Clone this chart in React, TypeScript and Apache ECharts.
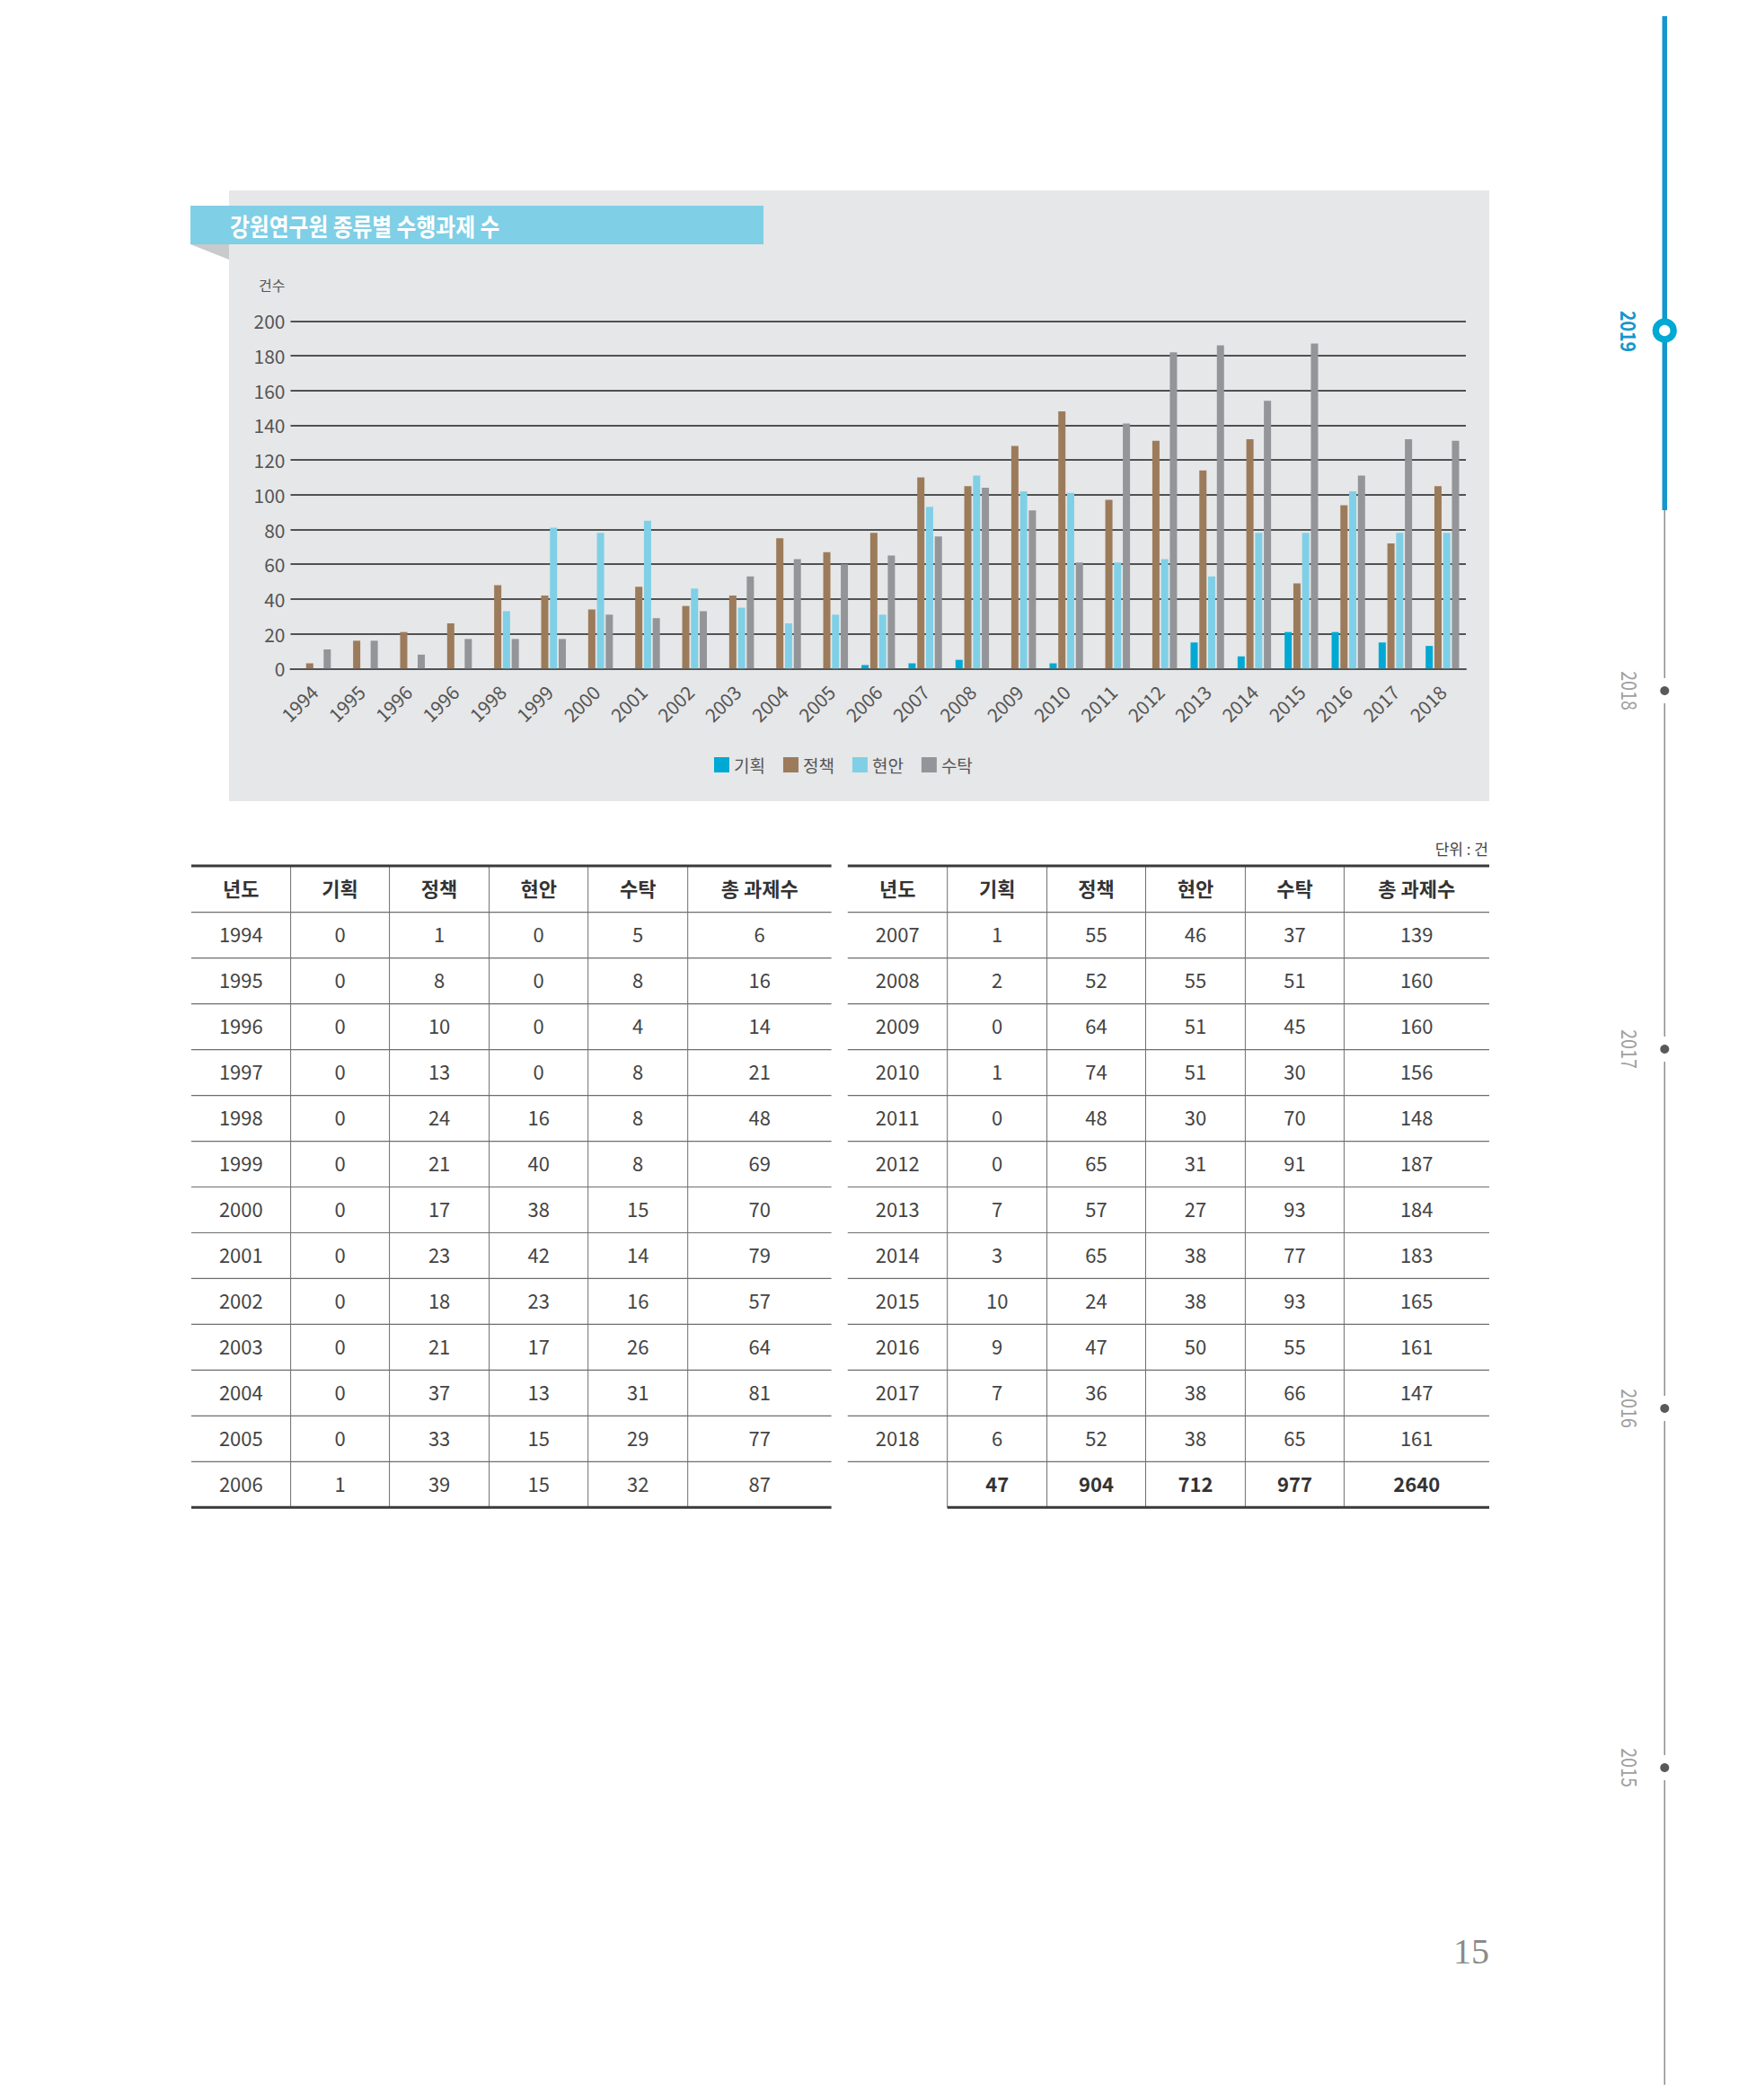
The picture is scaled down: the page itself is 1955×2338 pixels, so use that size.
import React, { useEffect, useRef } from "react";
import * as echarts from "echarts";

// ---- chart data ----
const categories = ["1994", "1995", "1996", "1996", "1998", "1999", "2000", "2001", "2002", "2003", "2004", "2005", "2006", "2007", "2008", "2009", "2010", "2011", "2012", "2013", "2014", "2015", "2016", "2017", "2018"];
const seriesNames = ["기획", "정책", "현안", "수탁"];
const planValues = [0, 0, 0, 0, 0, 0, 0, 0, 0, 0, 0, 0, 2, 3, 5, 0, 3, 0, 0, 15, 7, 21, 21, 15, 13];
const policyValues = [3, 16, 21, 26, 48, 42, 34, 47, 36, 42, 75, 67, 78, 110, 105, 128, 148, 97, 131, 114, 132, 49, 94, 72, 105];
const issueValues = [0, 0, 0, 0, 33, 81, 78, 85, 46, 35, 26, 31, 31, 93, 111, 102, 101, 61, 63, 53, 78, 78, 102, 78, 78];
const contractValues = [11, 16, 8, 17, 17, 17, 31, 29, 33, 53, 63, 60, 65, 76, 104, 91, 61, 141, 182, 186, 154, 187, 111, 132, 131];
const yTicks = { min: 0, max: 200, interval: 20 };

// ---- table data ----
const tableHeaders = ["년도", "기획", "정책", "현안", "수탁", "총 과제수"];
const leftYears = ["1994", "1995", "1996", "1997", "1998", "1999", "2000", "2001", "2002", "2003", "2004", "2005", "2006"];
const leftPlan = [0, 0, 0, 0, 0, 0, 0, 0, 0, 0, 0, 0, 1];
const leftPolicy = [1, 8, 10, 13, 24, 21, 17, 23, 18, 21, 37, 33, 39];
const leftIssue = [0, 0, 0, 0, 16, 40, 38, 42, 23, 17, 13, 15, 15];
const leftContract = [5, 8, 4, 8, 8, 8, 15, 14, 16, 26, 31, 29, 32];
const leftTotal = [6, 16, 14, 21, 48, 69, 70, 79, 57, 64, 81, 77, 87];
const rightYears = ["2007", "2008", "2009", "2010", "2011", "2012", "2013", "2014", "2015", "2016", "2017", "2018"];
const rightPlan = [1, 2, 0, 1, 0, 0, 7, 3, 10, 9, 7, 6];
const rightPolicy = [55, 52, 64, 74, 48, 65, 57, 65, 24, 47, 36, 52];
const rightIssue = [46, 55, 51, 51, 30, 31, 27, 38, 38, 50, 38, 38];
const rightContract = [37, 51, 45, 30, 70, 91, 93, 77, 93, 55, 66, 65];
const rightTotal = [139, 160, 160, 156, 148, 187, 184, 183, 165, 161, 147, 161];
const grandTotals = ["", "47", "904", "712", "977", "2640"];

// ---- timeline ----
const timelineYears = ["2018", "2017", "2016", "2015"];
const timelineY = [769, 1168, 1568, 1968];

const FONT = "'Noto Sans CJK KR', 'Noto Sans', sans-serif";
const COLORS = ["#00a9d4", "#9c7b5b", "#7fd0e6", "#939598"];

function buildGraphics() {
  const els: any[] = [];
  // chart panel
  els.push({ type: "rect", z: -100, shape: { x: 255, y: 212, width: 1403, height: 680 }, style: { fill: "#e6e7e8" } });
  // banner + fold
  els.push({ type: "polygon", shape: { points: [[212, 272], [255, 272], [255, 289]] }, style: { fill: "#c9cacc" } });
  els.push({ type: "rect", shape: { x: 212, y: 229, width: 638, height: 43 }, style: { fill: "#7fcfe6" } });
  els.push({
    type: "text", x: 256, y: 251, scaleX: 0.88,
    style: { text: "강원연구원 종류별 수행과제 수", x: 0, y: 0, fill: "#ffffff", fontSize: 27, fontWeight: "bold", fontFamily: FONT, align: "left", verticalAlign: "middle" },
  });

  // tables
  const top = 964, headBottom = 1015.7, rowH = 50.97, dy = -2;
  const drawTable = (edges: number[], years: string[], cols: number[][], withTotals: boolean) => {
    const nRows = 13;
    const bottom = headBottom + rowH * nRows;
    const line = (x1: number, y1: number, x2: number, y2: number, w: number, c: string) =>
      els.push({ type: "line", shape: { x1, y1, x2, y2 }, style: { stroke: c, lineWidth: w } });
    for (let i = 0; i < nRows; i++) {
      const y = headBottom + i * rowH;
      line(edges[0], y, edges[6], y, 1.2, "#6d6e70");
    }
    for (let j = 1; j < 6; j++) line(edges[j], top, edges[j], bottom, 1, "#6d6e70");
    line(edges[0], top, edges[6], top, 3, "#3a3a3a");
    line(withTotals ? edges[1] : edges[0], bottom, edges[6], bottom, 3, "#3a3a3a");
    const cx = (j: number) => (edges[j] + edges[j + 1]) / 2;
    tableHeaders.forEach((h, j) => {
      els.push({ type: "text", x: cx(j), y: (top + headBottom) / 2 + dy, style: { text: h, x: 0, y: 0, fill: "#333", fontSize: 22, fontWeight: "bold", fontFamily: FONT, align: "center", verticalAlign: "middle" } });
    });
    years.forEach((yr, i) => {
      const y = headBottom + (i + 0.5) * rowH + dy;
      const vals = [yr, ...cols.map((c) => String(c[i]))];
      vals.forEach((v, j) => {
        els.push({ type: "text", x: cx(j), y, style: { text: v, x: 0, y: 0, fill: "#444", fontSize: 22, fontFamily: FONT, align: "center", verticalAlign: "middle" } });
      });
    });
    if (withTotals) {
      const y = headBottom + (nRows - 0.5) * rowH + dy;
      grandTotals.forEach((v, j) => {
        if (!v) return;
        els.push({ type: "text", x: cx(j), y, style: { text: v, x: 0, y: 0, fill: "#333", fontSize: 22, fontWeight: "bold", fontFamily: FONT, align: "center", verticalAlign: "middle" } });
      });
    }
  };
  drawTable([213, 323.6, 433.6, 544.6, 654.7, 765.7, 925.6], leftYears, [leftPlan, leftPolicy, leftIssue, leftContract, leftTotal], false);
  drawTable([943.8, 1054.7, 1165.6, 1275.5, 1386.4, 1496.4, 1658], rightYears, [rightPlan, rightPolicy, rightIssue, rightContract, rightTotal], true);
  els.push({ type: "text", x: 1657, y: 944, style: { text: "단위 : 건", x: 0, y: 0, fill: "#444", fontSize: 17, fontFamily: FONT, align: "right", verticalAlign: "middle" } });

  // timeline
  const tx = 1853.3;
  els.push({ type: "line", shape: { x1: tx, y1: 568, x2: tx, y2: 2321 }, style: { stroke: "#8e8e8e", lineWidth: 1.5 } });
  els.push({ type: "line", shape: { x1: tx, y1: 18, x2: tx, y2: 568 }, style: { stroke: "#1497cc", lineWidth: 5.5 } });
  timelineYears.forEach((yr, i) => {
    const y = timelineY[i];
    els.push({ type: "rect", shape: { x: tx - 4, y: y - 14, width: 8, height: 28 }, style: { fill: "#ffffff" } });
    els.push({ type: "circle", shape: { cx: tx, cy: y, r: 5 }, style: { fill: "#58595b" } });
    els.push({ type: "text", x: 1815, y, rotation: -Math.PI / 2, scaleX: 0.82, style: { text: yr, x: 0, y: 0, fill: "#a0a0a0", fontSize: 24, fontFamily: FONT, align: "center", verticalAlign: "middle" } });
  });
  els.push({ type: "circle", shape: { cx: tx, cy: 368, r: 9.9 }, style: { fill: "#ffffff", stroke: "#00a9d4", lineWidth: 7.4 } });
  els.push({ type: "text", x: 1814, y: 369, rotation: -Math.PI / 2, scaleX: 0.85, style: { text: "2019", x: 0, y: 0, fill: "#1796cc", fontSize: 23, fontWeight: "bold", fontFamily: FONT, align: "center", verticalAlign: "middle" } });

  // page number
  els.push({ type: "text", x: 1658, y: 2172, style: { text: "15", x: 0, y: 0, fill: "#8a8a8a", fontSize: 40, fontFamily: "'Liberation Serif', 'DejaVu Serif', serif", align: "right", verticalAlign: "middle" } });
  return els;
}

export default function App() {
  const ref = useRef<HTMLDivElement>(null);
  useEffect(() => {
    if (!ref.current) return;
    const chart = echarts.init(ref.current, null, { renderer: "svg", width: 1955, height: 2338 });
    const values = [planValues, policyValues, issueValues, contractValues];
    chart.setOption({
      animation: false,
      backgroundColor: "#ffffff",
      textStyle: { fontFamily: FONT },
      grid: { left: 323.5, right: 323, top: 357.3, bottom: 1593.7, containLabel: false },
      legend: {
        data: seriesNames,
        left: 795,
        top: 842,
        padding: 0,
        itemWidth: 17,
        itemHeight: 17,
        itemGap: 20,
        icon: "rect",
        textStyle: { fontSize: 19, color: "#555", fontFamily: FONT },
      },
      xAxis: {
        type: "category",
        data: categories,
        axisLine: { show: true, lineStyle: { color: "#505152", width: 2 } },
        axisTick: { show: false },
        axisLabel: { interval: 0, rotate: 45, fontSize: 21, color: "#555", margin: 22, fontFamily: FONT },
      },
      yAxis: {
        type: "value",
        min: yTicks.min,
        max: yTicks.max,
        interval: yTicks.interval,
        name: "건수",
        nameLocation: "end",
        nameGap: 40,
        nameTextStyle: { fontSize: 16, color: "#555", align: "right", verticalAlign: "middle", padding: [0, 6, 0, 0], fontFamily: FONT },
        axisLine: { show: false },
        axisTick: { show: false },
        splitLine: { show: true, lineStyle: { color: "#505152", width: 2.2 } },
        axisLabel: { fontSize: 21, color: "#555", margin: 6, fontFamily: FONT },
      },
      series: seriesNames.map((name, i) => ({
        name,
        type: "bar",
        data: values[i],
        barWidth: 8,
        barGap: "22%",
        itemStyle: { color: COLORS[i] },
        z: 3,
      })),
      graphic: { elements: buildGraphics() },
    });
    return () => chart.dispose();
  }, []);
  return <div ref={ref} style={{ position: "absolute", left: 0, top: 0, width: 1955, height: 2338 }} />;
}
